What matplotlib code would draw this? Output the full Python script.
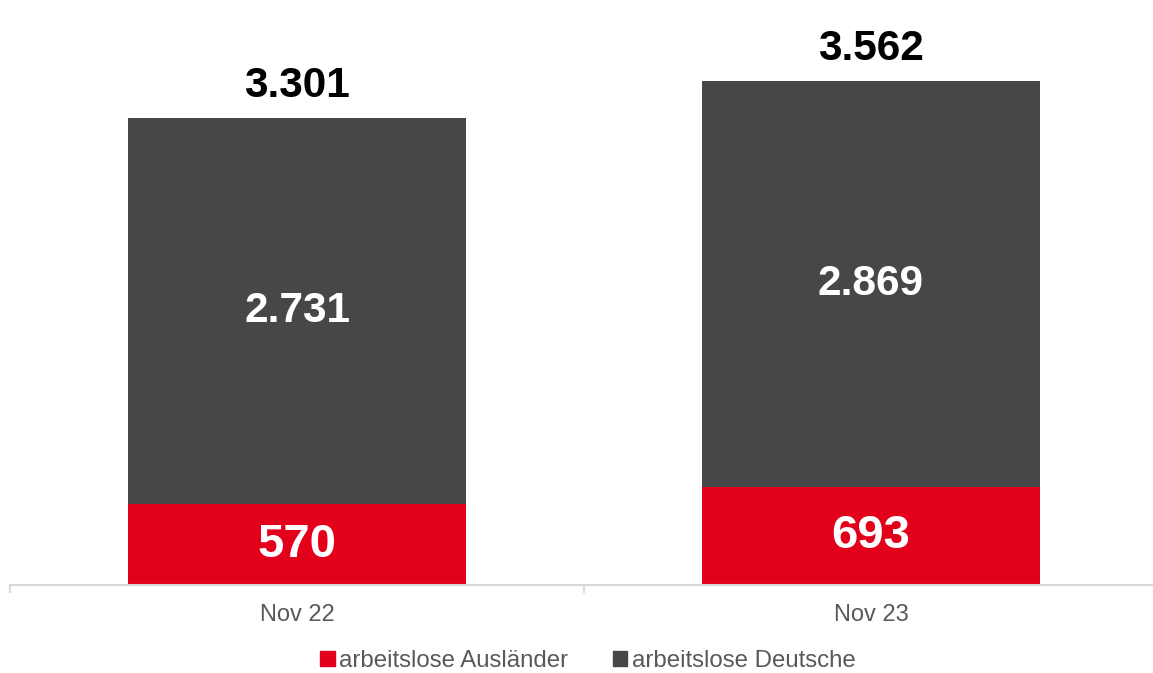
import matplotlib as mpl
mpl.use('Agg')
import matplotlib.pyplot as plt
from matplotlib.patches import Patch
import numpy as np

categories = ["Nov 22", "Nov 23"]
auslaender = [570, 693]
deutsche = [2731, 2869]
totals = [3301, 3562]
series_names = ["arbeitslose Ausländer", "arbeitslose Deutsche"]

red = "#E2001A"
dark = "#474747"

plt.rcParams['font.family'] = ['Liberation Sans', 'DejaVu Sans']

fig = plt.figure(figsize=(11.53, 6.73), dpi=100)
ax = fig.add_axes([10 / 1153, 88 / 673, 1148 / 1153, 585 / 673])

x = np.arange(len(categories))
w = 0.589
ax.bar(x, auslaender, w, color=red)
ax.bar(x, deutsche, w, bottom=auslaender, color=dark)

def fmt(v):
    return f"{v:,}".replace(",", ".")

for i in range(len(categories)):
    ax.text(x[i], auslaender[i] / 2, fmt(auslaender[i]),
            ha='center', va='center', color='white', fontsize=34, fontweight='bold')
    ax.text(x[i], auslaender[i] + deutsche[i] / 2, fmt(deutsche[i]),
            ha='center', va='center', color='white', fontsize=30.5, fontweight='bold')
    ax.annotate(fmt(totals[i]), (x[i], totals[i]),
                xytext=(0, 23), textcoords='offset points',
                ha='center', va='center', color='black', fontsize=30.5, fontweight='bold')

ax.set_xlim(-0.5, len(categories) - 0.5)
ax.set_ylim(0, 585 / (467 / 3301))

for s in ['top', 'right', 'left']:
    ax.spines[s].set_visible(False)
ax.spines['bottom'].set_color('#d9d9d9')
ax.spines['bottom'].set_linewidth(1.5)
ax.set_yticks([])

ax.set_xticks(np.arange(-0.5, len(categories)), [''] * (len(categories) + 1))
ax.tick_params(axis='x', which='major', length=6, color='#d9d9d9', width=1.5)
ax.set_xticks(x, categories, minor=True)
ax.tick_params(axis='x', which='minor', length=0, pad=14, labelsize=17, labelcolor='#595959')

handles = [Patch(color=red), Patch(color=dark)]
fig.legend(handles, series_names, loc='center', bbox_to_anchor=(588 / 1153, 1 - 661 / 673),
           ncol=2, frameon=False, fontsize=17.3, labelcolor='#595959',
           handlelength=0.6, handleheight=0.6, handletextpad=0.2, columnspacing=1.85,
           borderpad=0.1)

fig.savefig("out.png", dpi=100)
